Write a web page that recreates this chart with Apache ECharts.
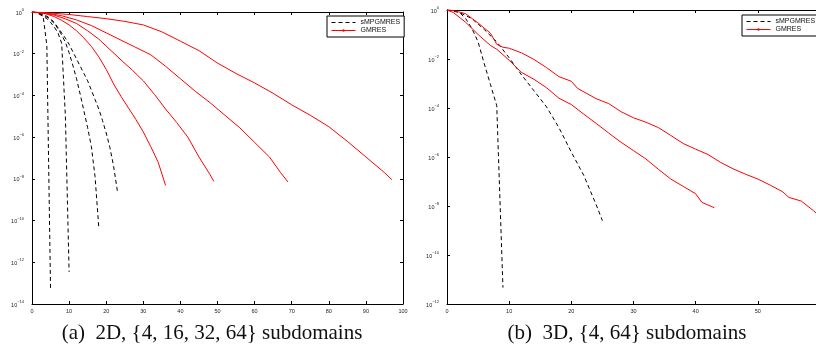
<!DOCTYPE html>
<html>
<head>
<meta charset="utf-8">
<script src="https://cdn.jsdelivr.net/npm/echarts@6/dist/echarts.min.js"></script>
<style>
  html, body { margin: 0; padding: 0; background: #fff; }
  #chart { width: 816px; height: 349px; }
</style>
</head>
<body>
<div id="chart"></div>
<script>
// residuals are stored as log10 values

// (a) 2D
const xA_s4 = [0, 1, 2, 3, 4, 5];
const lgA_s4 = [0, -0.03, -0.1, -0.2, -1.6, -13.3];
const xA_s16 = [0, 1, 2, 3, 4, 5, 6, 7, 8, 9, 10];
const lgA_s16 = [0, -0.03, -0.1, -0.2, -0.32, -0.5, -0.72, -1.0, -1.5, -5.0, -12.46];
const xA_s32 = [0, 1, 2, 3, 4, 5, 6, 7, 8, 9, 10, 11, 12, 13, 14, 15, 16, 17, 18];
const lgA_s32 = [0, -0.03, -0.08, -0.15, -0.25, -0.38, -0.55, -0.8, -1.1, -1.45, -1.95, -2.55, -3.2, -3.95, -4.75, -5.55, -6.45, -7.9, -10.33];
const xA_s64 = [0, 1, 2, 3, 4, 5, 6, 7, 8, 9, 10, 11, 12, 13, 14, 15, 16, 17, 18, 19, 20, 21, 22, 23];
const lgA_s64 = [0, -0.02, -0.06, -0.12, -0.2, -0.32, -0.5, -0.75, -1.0, -1.25, -1.55, -1.9, -2.25, -2.6, -2.95, -3.3, -3.75, -4.2, -4.65, -5.2, -5.8, -6.5, -7.4, -8.57];

const xA_g4 = [0, 2, 4, 6, 8, 10, 12, 14, 16, 18, 20, 22, 24, 26, 28, 30, 32, 34, 36];
const lgA_g4 = [0, -0.03, -0.1, -0.22, -0.4, -0.62, -0.9, -1.25, -1.65, -2.15, -2.75, -3.45, -4.05, -4.6, -5.15, -5.75, -6.45, -7.2, -8.31];
const xA_g16 = [0, 3, 6, 9, 12, 15, 18, 21, 24, 27, 30, 33, 36, 39, 42, 45, 48, 49];
const lgA_g16 = [0, -0.05, -0.15, -0.33, -0.55, -0.9, -1.3, -1.8, -2.3, -2.78, -3.3, -3.95, -4.65, -5.3, -6.0, -6.95, -7.8, -8.12];
const xA_g32 = [0, 4, 8, 12, 16, 20, 24, 28, 32, 36, 40, 44, 48, 52, 56, 60, 64, 67, 69];
const lgA_g32 = [0, -0.05, -0.18, -0.38, -0.65, -1.0, -1.35, -1.7, -2.05, -2.6, -3.2, -3.8, -4.35, -4.95, -5.55, -6.25, -6.95, -7.7, -8.15];
const xA_g64 = [0, 5, 10, 15, 20, 25, 30, 35, 40, 45, 50, 55, 60, 65, 70, 75, 80, 85, 90, 95, 97];
const lgA_g64 = [0, -0.05, -0.12, -0.22, -0.32, -0.45, -0.62, -0.95, -1.4, -1.85, -2.45, -2.95, -3.4, -3.9, -4.45, -4.95, -5.5, -6.2, -6.95, -7.7, -8.04];

// (b) 3D
const xB_s4 = [0, 1, 2, 3, 4, 5, 6, 7, 8, 9];
const lgB_s4 = [0, -0.02, -0.1, -0.35, -0.75, -1.3, -2.2, -3.05, -3.9, -11.33];
const xB_s64 = [0, 2, 4, 6, 8, 10, 12, 14, 16, 18, 20, 22, 24, 25];
const lgB_s64 = [0, -0.1, -0.35, -0.8, -1.3, -1.95, -2.65, -3.3, -3.95, -4.8, -5.8, -6.75, -7.95, -8.6];
const xB_g4 = [0, 1, 3, 5, 7, 8, 10, 12, 14, 16, 18, 20, 22, 24, 26, 28, 30, 32, 34, 36, 38, 40, 41, 43];
const lgB_g4 = [0, -0.1, -0.5, -1.0, -1.45, -1.6, -2.05, -2.55, -2.83, -3.17, -3.6, -3.86, -4.25, -4.63, -5.02, -5.4, -5.74, -6.08, -6.5, -6.9, -7.2, -7.5, -7.85, -8.07];
const xB_g64 = [0, 1, 3, 5, 7, 8, 9, 10, 12, 14, 16, 18, 20, 21, 24, 26, 28, 30, 32, 34, 36, 38, 40, 42, 44, 46, 48, 50, 52, 54, 55, 57, 59, 60];
const lgB_g64 = [0, -0.02, -0.15, -0.53, -0.95, -1.4, -1.52, -1.56, -1.75, -2.02, -2.35, -2.72, -2.91, -3.2, -3.62, -3.82, -4.15, -4.4, -4.58, -4.8, -5.12, -5.45, -5.68, -5.9, -6.22, -6.48, -6.7, -6.9, -7.15, -7.42, -7.65, -7.8, -8.2, -8.45];

const captionA = '(a)  2D, {4, 16, 32, 64} subdomains';
const captionB = '(b)  3D, {4, 64} subdomains';

const SANS = 'Liberation Sans, Arial, sans-serif';
const SERIF = 'Liberation Serif, Times New Roman, serif';

const pairs = (xs, lg) => xs.map((x, i) => [x, Math.pow(10, lg[i])]);

const chart = echarts.init(document.getElementById('chart'), null, { renderer: 'canvas' });

const axisLine = { show: true, onZero: false, lineStyle: { color: '#000', width: 1 } };
const tick = { show: true, inside: true, length: 3, lineStyle: { color: '#000', width: 1 } };

function logLabel(v) {
  const e = Math.round(Math.log10(v));
  return '{b|10}{s|' + (e < 0 ? '\u2212' + (-e) : e) + '}';
}

function xAx(grid, max, pos, labels) {
  return {
    type: 'value', gridIndex: grid, position: pos, min: 0, max: max, interval: 10,
    axisLine: axisLine, axisTick: tick, splitLine: { show: false },
    axisLabel: { show: labels, fontSize: 5.5, color: '#222', fontFamily: SANS, margin: 4 }
  };
}

function yAx(grid, minV, pos, labels, visible) {
  return {
    type: 'log', logBase: 10, gridIndex: grid, position: pos, min: minV, max: 1, interval: 2,
    show: visible !== false,
    axisLine: axisLine, axisTick: tick, splitLine: { show: false }, minorTick: { show: false },
    axisLabel: {
      show: labels, margin: 8, formatter: logLabel,
      rich: {
        b: { fontSize: 5.5, color: '#222', fontFamily: SANS, lineHeight: 8, verticalAlign: 'bottom' },
        s: { fontSize: 4, color: '#222', fontFamily: SANS, lineHeight: 8, verticalAlign: 'top' }
      }
    }
  };
}

function dashed(name, xi, yi, xs, lg) {
  return {
    name: name, type: 'line', xAxisIndex: xi, yAxisIndex: yi, data: pairs(xs, lg),
    symbol: 'none', showSymbol: false, silent: true,
    lineStyle: { color: '#000', width: 1, type: [4, 3] }, itemStyle: { color: '#000' }
  };
}

function solid(name, xi, yi, xs, lg) {
  return {
    name: name, type: 'line', xAxisIndex: xi, yAxisIndex: yi, data: pairs(xs, lg),
    symbol: 'circle', symbolSize: 2, showSymbol: false, silent: true,
    lineStyle: { color: '#ff0000', width: 1 }, itemStyle: { color: '#ff0000' }
  };
}

function legendAt(left, top) {
  return {
    left: left, top: top, orient: 'vertical',
    data: [
      { name: 'sMPGMRES', itemStyle: { color: 'rgba(0,0,0,0)', borderWidth: 0, opacity: 0 } },
      { name: 'GMRES' }
    ],
    itemWidth: 24, itemHeight: 3, itemGap: 1, padding: [3, 4, 3, 4],
    borderColor: '#000', borderWidth: 1, backgroundColor: '#fff',
    selectedMode: false,
    lineStyle: { width: 1 },
    textStyle: { fontSize: 7, color: '#111', fontFamily: SANS, padding: [0, 0, 0, 0] }
  };
}

const option = {
  animation: false,
  backgroundColor: '#fff',
  grid: [
    { left: 32, top: 12, width: 371, height: 292, containLabel: false, outerBoundsMode: 'none' },
    { left: 447, top: 10, width: 373, height: 294, containLabel: false, outerBoundsMode: 'none' }
  ],
  xAxis: [
    xAx(0, 100, 'bottom', true),
    xAx(0, 100, 'top', false),
    xAx(1, 60, 'bottom', true),
    xAx(1, 60, 'top', false)
  ],
  yAxis: [
    yAx(0, 1e-14, 'left', true),
    yAx(0, 1e-14, 'right', false),
    yAx(1, 1e-12, 'left', true),
    yAx(1, 1e-12, 'right', false, false)
  ],
  legend: [legendAt(327, 16), legendAt(742, 15)],
  graphic: [
    { type: 'text', x: 212, y: 333, style: { text: captionA, font: '21px ' + SERIF, fill: '#111', textAlign: 'center', textVerticalAlign: 'middle' } },
    { type: 'text', x: 627, y: 333, style: { text: captionB, font: '21px ' + SERIF, fill: '#111', textAlign: 'center', textVerticalAlign: 'middle' } }
  ],
  series: [
    dashed('sMPGMRES', 0, 0, xA_s4, lgA_s4),
    dashed('sMPGMRES', 0, 0, xA_s16, lgA_s16),
    dashed('sMPGMRES', 0, 0, xA_s32, lgA_s32),
    dashed('sMPGMRES', 0, 0, xA_s64, lgA_s64),
    solid('GMRES', 0, 0, xA_g4, lgA_g4),
    solid('GMRES', 0, 0, xA_g16, lgA_g16),
    solid('GMRES', 0, 0, xA_g32, lgA_g32),
    solid('GMRES', 0, 0, xA_g64, lgA_g64),
    dashed('sMPGMRES', 2, 2, xB_s4, lgB_s4),
    dashed('sMPGMRES', 2, 2, xB_s64, lgB_s64),
    solid('GMRES', 2, 2, xB_g4, lgB_g4),
    solid('GMRES', 2, 2, xB_g64, lgB_g64)
  ]
};

chart.setOption(option);
</script>
</body>
</html>
